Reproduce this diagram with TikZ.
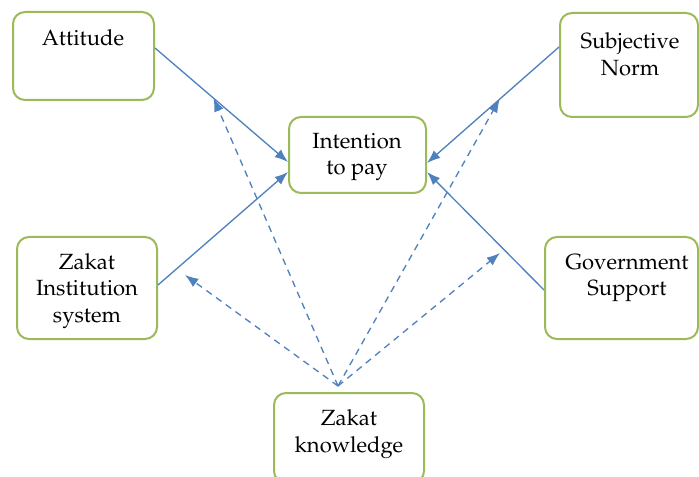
\documentclass[tikz,border=0pt]{standalone}
\usepackage[T1]{fontenc}
\usepackage{mathpazo}
\usetikzlibrary{arrows.meta, positioning, calc}
\definecolor{boxgreen}{RGB}{155,187,89}
\definecolor{linkblue}{RGB}{79,129,189}

\begin{document}
\begin{tikzpicture}[x=0.75pt, y=-0.75pt,
  box/.style={draw=boxgreen, line width=1.5pt, rounded corners=9pt, inner sep=0pt},
  lbl/.style={align=center, inner sep=0pt, font=\fontsize{16.5}{20}\selectfont},
  link/.style={linkblue, line width=1pt, -{Latex[length=10pt,width=7.5pt]}},
  mod/.style={link, dash pattern=on 5pt off 4pt}]
  \useasboundingbox (0,0) rectangle (699,477);

  % boxes
  \node[box, minimum width=105.75pt, minimum height=66pt] (att) at (83.5,56) {};
  \node[box, minimum width=103.5pt, minimum height=78pt] (sn) at (629,65) {};
  \node[box, minimum width=102.75pt, minimum height=57pt] (int) at (357.5,155) {};
  \node[box, minimum width=105pt, minimum height=76.5pt] (zi) at (87,288) {};
  \node[box, minimum width=114.75pt, minimum height=76.5pt] (gov) at (621.5,288) {};
  \node[box, minimum width=112.5pt, minimum height=67.5pt] (kn) at (349,438) {};

  % labels
  \node[lbl] (attT) at (83,38) {Attitude};
  \node[lbl] (snT) at (630,54) {Subjective\\Norm};
  \node[lbl] (intT) at (357,157) {Intention\\to pay};
  \node[lbl] (ziT) at (87,291) {Zakat\\Institution\\system};
  \node[lbl] (govT) at (627,278) {Government\\Support};
  \node[lbl] (knT) at (349,434) {Zakat\\knowledge};

  % direct effects
  \draw[link] ($(att.east)+(0,-8)$) -- coordinate[pos=0.44] (attmid) ($(int.west)+(0,7)$);
  \draw[link] ($(zi.east)+(0,-3)$) -- ($(int.west)+(0,17)$);
  \draw[link] ($(sn.west)+(0,-18)$) -- coordinate[pos=0.45] (snmid) ($(int.east)+(0,8)$);
  \draw[link] ($(gov.west)+(0,2)$) -- ($(int.east)+(0,17)$);

  % knowledge as moderator
  \coordinate (src) at ($(kn.north)+(-11,-6)$);
  \coordinate (zitip) at (185,275);
  \coordinate (govtip) at (500,253);
  \foreach \t in {attmid, snmid, zitip, govtip}
    \draw[mod] (src) -- (\t);
\end{tikzpicture}
\end{document}
